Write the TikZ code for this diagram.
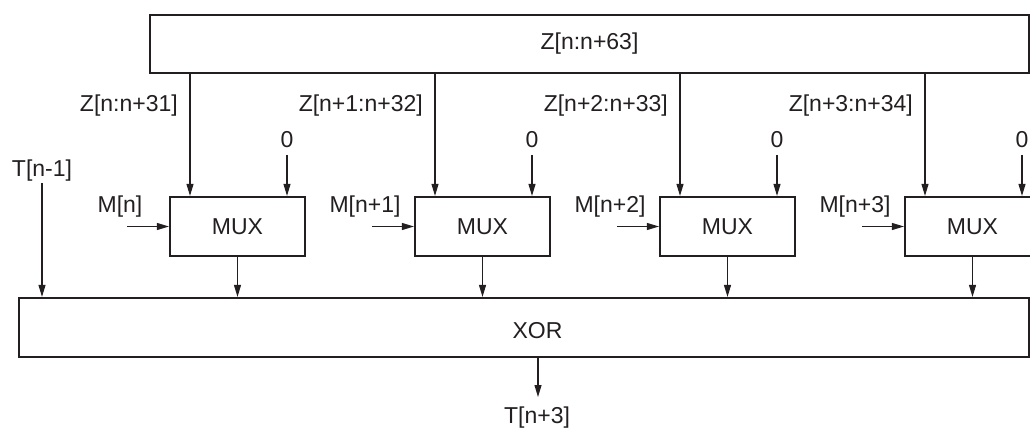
\documentclass[tikz,border=0pt]{standalone}
\usepackage{fontspec}
\setmainfont{Liberation Sans}
\usetikzlibrary{arrows.meta}
\definecolor{ink}{HTML}{231F20}
\begin{document}
\begin{tikzpicture}[x=1pt,y=-1pt,
  lbl/.style={font=\fontsize{23}{27}\selectfont, text=ink, inner sep=0pt},
  boxx/.style={draw=ink, line width=2.2pt, fill=white, inner sep=0pt,
               font=\fontsize{23}{27}\selectfont, text=ink},
  muxbox/.style={boxx, minimum width=135pt, minimum height=59pt},
  arr/.style={draw=ink, line width=1.1pt, -{Triangle[length=12pt,width=7pt]}}]
\useasboundingbox (0,0) rectangle (1030,430);
\clip (0,0) rectangle (1030,430);

\node[boxx, minimum width=879pt, minimum height=58pt] (zbox) at (589.5,44) {Z[n:n+63]};
\node[boxx, minimum width=1010pt, minimum height=59pt] (xor) at (524,327.5) {};
\node[lbl] (xort) at (537.5,330.5) {XOR};

\node[lbl, anchor=base] (tin) at (42,176.5) {T[n-1]};
\coordinate (tinS) at (42,183);
\draw[arr] (tinS) -- (tinS |- xor.north);

\coordinate (outE) at (538,397);
\draw[arr] (xor.south -| outE) -- (outE);
\node[lbl, anchor=base] (tout) at (537,423.5) {T[n+3]};

\foreach \i/\zl/\ml [evaluate=\i as \zx using 190+245*\i,
                     evaluate=\i as \bx using 287+245*\i,
                     evaluate=\i as \mx using 127+245*\i,
                     evaluate=\i as \cx using 237.5+245*\i]
  in {0/{Z[n:n+31]}/{M[n]}, 1/{Z[n+1:n+32]}/{M[n+1]},
      2/{Z[n+2:n+33]}/{M[n+2]}, 3/{Z[n+3:n+34]}/{M[n+3]}} {
  \node[muxbox] (mux\i) at (\cx,226.5) {MUX};
  % Z input
  \coordinate (zin\i) at (\zx,197);
  \draw[arr] (zbox.south -| zin\i) -- (zin\i |- mux\i.north);
  \node[lbl, anchor=base east] (zl\i) at (\zx-12,111.5) {\zl};
  % zero input
  \node[lbl, anchor=base] (zero\i) at (\bx,147.5) {0};
  \coordinate (zs\i) at (\bx,155);
  \draw[arr] (zs\i) -- (zs\i |- mux\i.north);
  % M input
  \coordinate (min\i) at (\mx,226.5);
  \draw[arr] (min\i) -- (mux\i.west);
  \node[lbl, anchor=base] (ml\i) at (\mx-7,213) {\ml};
  % output to XOR
  \draw[arr] (mux\i.south) -- (mux\i.south |- xor.north);
}
\end{tikzpicture}
\end{document}
